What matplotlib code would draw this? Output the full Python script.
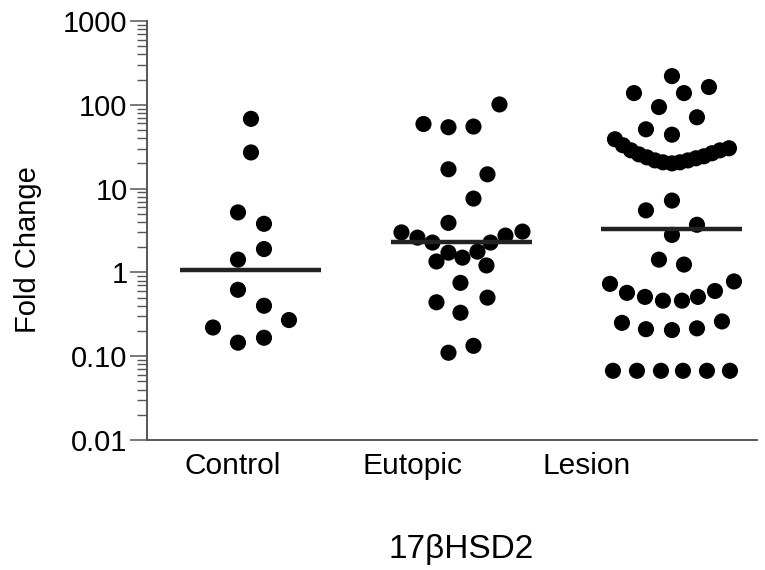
import numpy as np
import matplotlib.pyplot as plt

plt.rcParams['font.family'] = ['Liberation Sans', 'DejaVu Sans']

groups = ['Control', 'Eutopic', 'Lesion']

# fold change values
control = [68, 27, 5.2, 3.8, 1.9, 1.42, 0.62, 0.40, 0.27, 0.22, 0.166, 0.145]
eutopic = [101, 59, 54, 55, 17, 14.8, 7.6, 3.9,
           3.0, 2.6, 2.27, 1.72, 1.50, 1.77, 2.27, 2.75, 3.07,
           1.35, 1.21, 0.75, 0.44, 0.50, 0.33, 0.133, 0.11]
lesion = [220, 138, 163, 138, 94, 71, 51, 44,
          38.8, 32.9, 28.6, 25.6, 23.6, 21.7, 20.6, 20.0, 20.6, 21.7, 23.0, 24.3, 26.4, 28.6, 30.3,
          7.2, 5.5, 3.7, 2.8, 1.42, 1.24,
          0.73, 0.57, 0.51, 0.46, 0.46, 0.51, 0.60, 0.78,
          0.25, 0.21, 0.205, 0.215, 0.26,
          0.067, 0.067, 0.067, 0.067, 0.067, 0.067]
medians = [1.08, 2.3, 3.3]

# horizontal spread of the dots within each column (pixels from centre)
control_dx = [0, 0, -13, 13, 13, -13, -13, 13, 38, -38, 13, -13]
eutopic_dx = [38, -38, -13, 12, -13, 26, 12, -13,
              -60, -44, -29, -13, 1, 16, 29, 44, 61,
              -25, 25, -1, -25, 26, -1, 12, -13]
lesion_dx = [0, -38, 37, 12, -13, 25, -26, 0,
             -57, -49, -41, -33, -25, -17, -9, 0, 8, 16, 24, 32, 40, 48, 57,
             0, -26, 25, 0, -13, 12,
             -62, -45, -27, -9, 10, 26, 43, 62,
             -50, -26, 0, 25, 50,
             -59, -35, -11, 11, 35, 58]

label_pos = [-0.086, 0.765, 1.596]
px = 210.5  # pixels per category step

fig = plt.figure(figsize=(7.65, 5.7), dpi=100)
ax = fig.add_axes([147/765, 1 - 440/570, (757 - 147)/765, (440 - 21)/570])

for i, (vals, dx) in enumerate(zip([control, eutopic, lesion], [control_dx, eutopic_dx, lesion_dx])):
    x = i + np.array(dx)/px
    ax.scatter(x, vals, s=135, color='black', edgecolors='none', zorder=3)
    ax.plot([i - 0.335, i + 0.335], [medians[i], medians[i]], color='#222222', lw=3.2, zorder=4,
            solid_capstyle='butt')

ax.set_yscale('log')
ax.set_ylim(0.01, 1000)
ax.set_xlim(-0.494, 2.404)
ax.set_yticks([0.01, 0.1, 1, 10, 100, 1000])
ax.set_yticklabels(['0.01', '0.10', '1', '10', '100', '1000'])
ax.set_xticks(label_pos)
ax.set_xticklabels(groups)

for s in ['top', 'right']:
    ax.spines[s].set_visible(False)
for s in ['left', 'bottom']:
    ax.spines[s].set_color('#555555')
    ax.spines[s].set_linewidth(1.4)

ax.tick_params(axis='y', which='major', length=12, width=1.1, color='#555555', labelsize=21, pad=2)
ax.tick_params(axis='y', which='minor', length=7, width=1.0, color='#555555')
ax.tick_params(axis='x', length=0, labelsize=21.5, pad=9)

fig.text(28/765, 1 - 250/570, 'Fold Change', rotation=90, fontsize=21, ha='center', va='center')
fig.text(461/765, 1 - 558/570, '17βHSD2', fontsize=24, ha='center', va='baseline')

fig.savefig('out.png', dpi=100)
